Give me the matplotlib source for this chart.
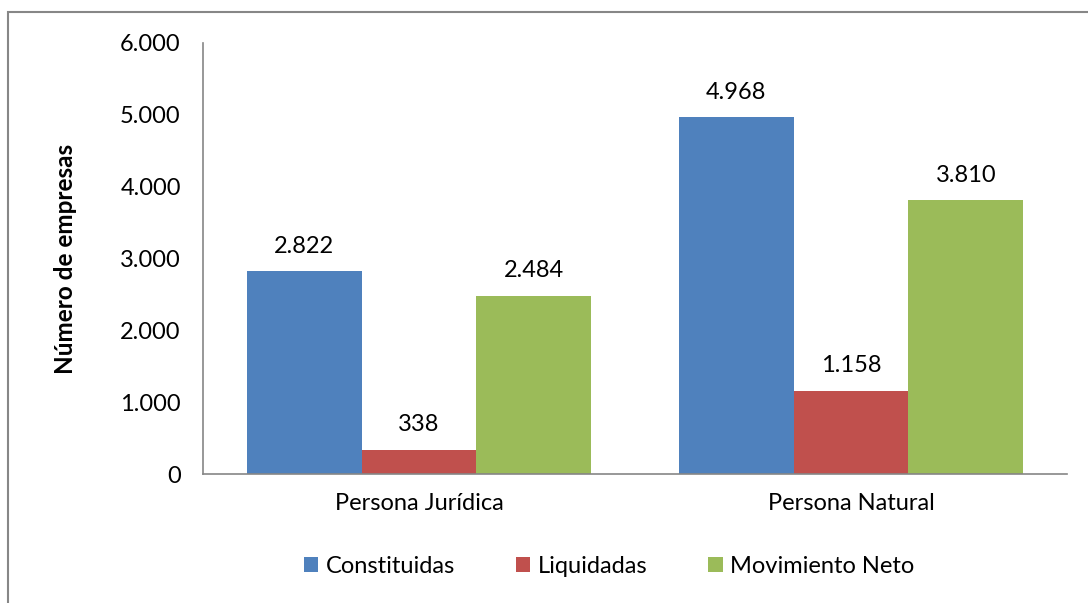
import numpy as np
import matplotlib.pyplot as plt
from matplotlib.patches import Rectangle

plt.rcParams['font.family'] = ['Lato', 'DejaVu Sans']

categories = ['Persona Jurídica', 'Persona Natural']
series_names = ['Constituidas', 'Liquidadas', 'Movimiento Neto']
constituidas = [2822, 4968]
liquidadas = [338, 1158]
movimiento_neto = [2484, 3810]
colors = ['#4F81BD', '#C0504D', '#9BBB59']


def fmt(v):
    return '{:,}'.format(int(v)).replace(',', '.')


fig = plt.figure(figsize=(10.88, 6.03), dpi=100)
ax = fig.add_axes([0.1866, 0.2139, 0.7941, 0.7148])

# outer chart border (partly cut off in the source image)
fig.patches.append(Rectangle((8 / 1088, -0.1), 1.2, 1.1 - 12 / 603,
                             transform=fig.transFigure, fill=False,
                             edgecolor='#878787', linewidth=1.5))

x = np.arange(len(categories))
w = 0.266
for i, (name, vals) in enumerate(zip(series_names, [constituidas, liquidadas, movimiento_neto])):
    bars = ax.bar(x + (i - 1) * w, vals, w, color=colors[i], label=name)
    for b, v in zip(bars, vals):
        ax.text(b.get_x() + b.get_width() / 2, v + 200, fmt(v),
                ha='center', va='bottom', fontsize=17)

ax.set_xlim(-0.5, 1.5)
ax.set_ylim(0, 6000)
ax.set_yticks(range(0, 6001, 1000))
ax.set_yticklabels([fmt(v) for v in range(0, 6001, 1000)], fontsize=17)
ax.set_xticks(x)
ax.set_xticklabels(categories, fontsize=17)
ax.tick_params(axis='y', length=0, pad=16)
ax.tick_params(axis='x', length=0, pad=14)
for s in ['top', 'right']:
    ax.spines[s].set_visible(False)
for s in ['left', 'bottom']:
    ax.spines[s].set_color('#868686')
    ax.spines[s].set_linewidth(1.2)
ax.set_ylabel('Número de empresas', fontsize=17.5, fontweight='bold', labelpad=31)

ax.legend(loc='center', bbox_to_anchor=(0.47, -0.215), ncol=3, frameon=False,
          fontsize=17, handlelength=0.6, handleheight=0.6, handletextpad=0.3,
          columnspacing=2.6)

fig.savefig('out.png', dpi=100)
